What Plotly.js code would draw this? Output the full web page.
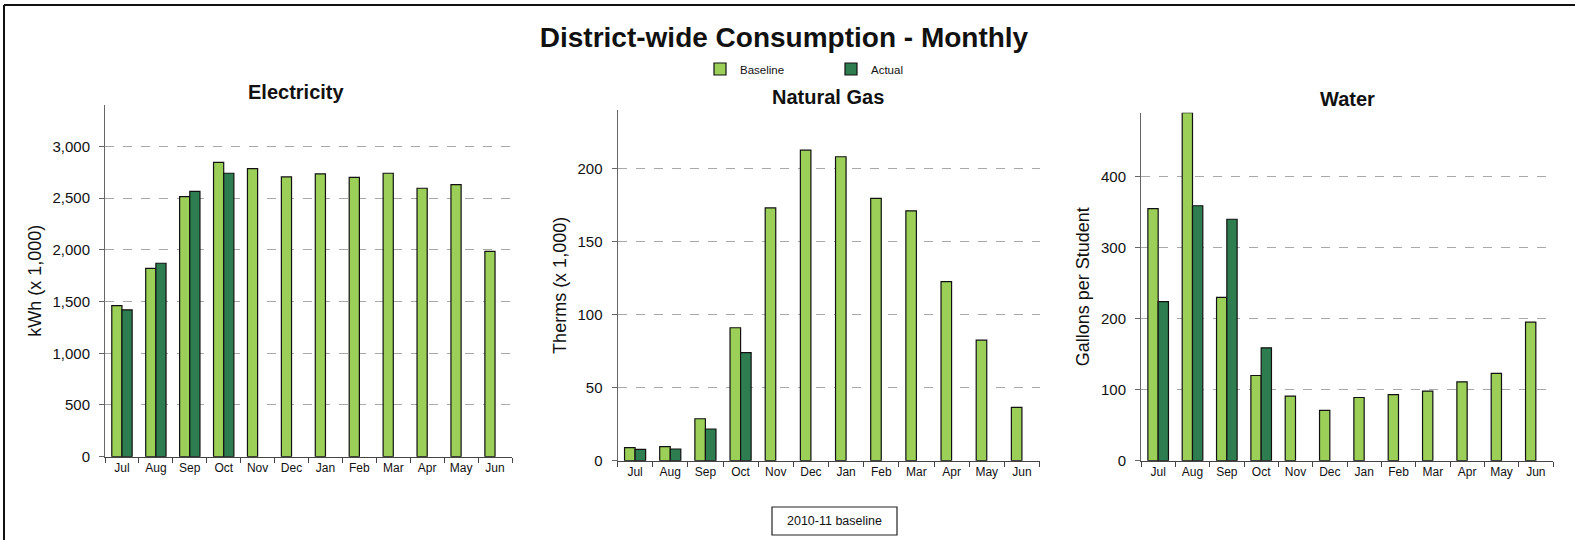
<!DOCTYPE html>
<html>
<head>
<meta charset="utf-8">
<script src="https://cdn.plot.ly/plotly-3.0.1.min.js"></script>
<style>html,body{margin:0;padding:0;background:#fff;}#chart{width:1575px;height:540px;}</style>
</head>
<body>
<div id="chart"></div>
<script>
var months = ['Jul','Aug','Sep','Oct','Nov','Dec','Jan','Feb','Mar','Apr','May','Jun'];

var elecBaseline = [1460, 1820, 2515, 2845, 2785, 2705, 2735, 2700, 2740, 2595, 2630, 1985];
var elecActual   = [1420, 1870, 2565, 2740, null, null, null, null, null, null, null, null];

var gasBaseline = [8.9, 9.6, 28.7, 91, 173, 212.5, 208, 179.5, 171, 122.5, 82.5, 36.5];
var gasActual   = [7.8, 8.0, 21.7, 74, null, null, null, null, null, null, null, null];

var waterBaseline = [355, 490, 230, 120, 91, 71, 89, 93, 98, 111, 123, 195];
var waterActual   = [224, 359, 340, 159, null, null, null, null, null, null, null, null];

var seriesNames = ['Baseline', 'Actual'];
var mainTitle = 'District-wide Consumption - Monthly';
var panelTitles = ['Electricity', 'Natural Gas', 'Water'];
var yTitles = ['kWh (x 1,000)', 'Therms (x 1,000)', 'Gallons per Student'];
var noteText = '2010-11 baseline';

var FONT = 'Liberation Sans, Arial, sans-serif';
var W = 1575, H = 540;
var cBase = '#9BCF58', cAct = '#2E7D50';

function bar(x, y, name, color, xa, ya, show) {
  return {
    type: 'bar', x: x, y: y, name: name, legendgroup: name, showlegend: show,
    xaxis: xa, yaxis: ya,
    marker: {color: color, line: {color: '#111', width: 1.2}}
  };
}

var data = [
  bar(months, elecBaseline, seriesNames[0], cBase, 'x', 'y', true),
  bar(months, elecActual, seriesNames[1], cAct, 'x', 'y', true),
  bar(months, gasBaseline, seriesNames[0], cBase, 'x2', 'y2', false),
  bar(months, gasActual, seriesNames[1], cAct, 'x2', 'y2', false),
  bar(months, waterBaseline, seriesNames[0], cBase, 'x3', 'y3', false),
  bar(months, waterActual, seriesNames[1], cAct, 'x3', 'y3', false)
];

function px(x) { return x / W; }
function py(y) { return (H - y) / H; }

function xaxis(d0, d1, anchor) {
  return {
    domain: [px(d0), px(d1)], anchor: anchor,
    showline: true, linecolor: '#444', linewidth: 1,
    ticks: 'outside', ticklen: 5, tickcolor: '#444', tickson: 'boundaries',
    tickfont: {family: FONT, size: 12, color: '#111'},
    showgrid: false, zeroline: false, fixedrange: true
  };
}
function yaxis(top, bottom, anchor, maxv, dt, title) {
  return {
    domain: [py(bottom), py(top)], anchor: anchor,
    range: [0, maxv], dtick: dt, tick0: 0, tickformat: ',d',
    showline: true, linecolor: '#666', linewidth: 1,
    ticks: 'outside', ticklen: 5, tickcolor: '#666', ticklabelstandoff: 6,
    tickfont: {family: FONT, size: 15, color: '#111'},
    showgrid: true, gridcolor: '#a8a8a8', gridwidth: 1, griddash: 'dash',
    zeroline: false, fixedrange: true,
    title: {text: title, font: {family: FONT, size: 18, color: '#111'}, standoff: 6}
  };
}

var layout = {
  width: W, height: H,
  margin: {l: 0, r: 0, t: 0, b: 0},
  paper_bgcolor: '#fff', plot_bgcolor: '#fff',
  font: {family: FONT, color: '#111'},
  barmode: 'group', bargap: 0.4, bargroupgap: 0,
  title: {text: '<b>' + mainTitle + '</b>', font: {family: FONT, size: 28, color: '#111'},
          x: px(784), xanchor: 'center', y: py(37), yanchor: 'middle'},
  showlegend: true,
  legend: {orientation: 'h', x: px(700), xanchor: 'left', y: py(69), yanchor: 'middle',
           font: {family: FONT, size: 11.5, color: '#111'},
           entrywidth: 86, entrywidthmode: 'pixels', bgcolor: 'rgba(0,0,0,0)',
           itemwidth: 30, tracegroupgap: 0},
  xaxis: xaxis(105, 512, 'y'),
  yaxis: yaxis(105, 456.7, 'x', 3400, 500, yTitles[0]),
  xaxis2: xaxis(617.5, 1039.5, 'y2'),
  yaxis2: yaxis(110, 460.7, 'x2', 240, 50, yTitles[1]),
  xaxis3: xaxis(1141, 1553, 'y3'),
  yaxis3: yaxis(112.7, 460.7, 'x3', 490, 100, yTitles[2]),
  annotations: [
    {text: '<b>' + panelTitles[0] + '</b>', x: px(296), y: py(92), xref: 'paper', yref: 'paper',
     xanchor: 'center', yanchor: 'middle', showarrow: false, font: {family: FONT, size: 20, color: '#111'}},
    {text: '<b>' + panelTitles[1] + '</b>', x: px(828), y: py(97), xref: 'paper', yref: 'paper',
     xanchor: 'center', yanchor: 'middle', showarrow: false, font: {family: FONT, size: 20, color: '#111'}},
    {text: '<b>' + panelTitles[2] + '</b>', x: px(1347), y: py(99), xref: 'paper', yref: 'paper',
     xanchor: 'center', yanchor: 'middle', showarrow: false, font: {family: FONT, size: 20, color: '#111'}},
    {text: noteText, x: px(834.5), y: py(521), xref: 'paper', yref: 'paper',
     xanchor: 'center', yanchor: 'middle', showarrow: false, font: {family: FONT, size: 12.5, color: '#111'}}
  ],
  shapes: [
    {type: 'rect', xref: 'paper', yref: 'paper', x0: px(772), x1: px(897), y0: py(535), y1: py(507),
     line: {color: '#222', width: 1.2}, fillcolor: 'rgba(0,0,0,0)'},
    {type: 'line', xref: 'paper', yref: 'paper', x0: px(4), x1: px(4), y0: 0, y1: py(5),
     line: {color: '#111', width: 2}},
    {type: 'line', xref: 'paper', yref: 'paper', x0: px(4), x1: 1, y0: py(5), y1: py(5),
     line: {color: '#111', width: 2}}
  ]
};

Plotly.newPlot('chart', data, layout, {staticPlot: true, displayModeBar: false});
</script>
</body>
</html>
